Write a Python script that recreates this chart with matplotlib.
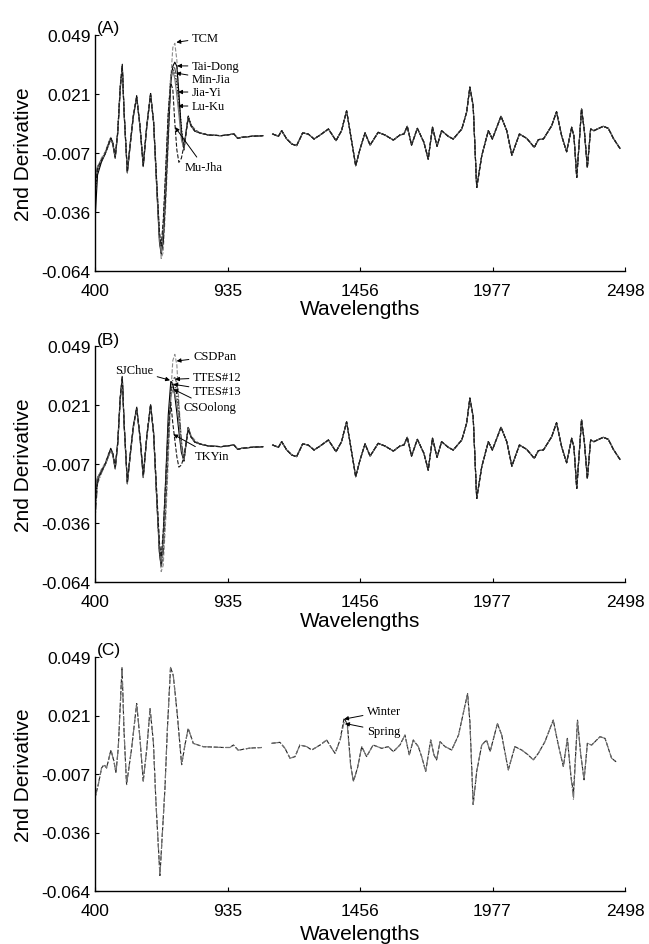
import numpy as np
import matplotlib
matplotlib.use("Agg")
import matplotlib.pyplot as plt

# ---------------- data ----------------
# visible-region grid (nm) shared by the panel A / B series
wl_head = [400, 410, 425, 440, 455, 462, 470, 480, 490, 500, 508, 515, 528, 540, 552,
           565, 578, 591, 605, 620, 632, 645, 655, 662, 670, 680, 690, 700, 708, 716,
           724, 732, 742, 752, 760, 769, 780, 795]

# panel A series (400-795 nm)
tcm = [-0.030, -0.016, -0.010, -0.007, -0.002, 0.000, -0.002, -0.009, 0.003, 0.025, 0.034, 0.013, -0.016, -0.002, 0.011,
       0.019, 0.006, -0.013, 0.006, 0.021, 0.008, -0.022, -0.046, -0.058, -0.055, -0.032, -0.004, 0.028, 0.043, 0.045,
       0.037, 0.020, 0.003, -0.006, 0.001, 0.010, 0.006, 0.004]
tai_dong = [-0.040, -0.018, -0.012, -0.008, -0.003, -0.001, -0.003, -0.010, 0.002, 0.023, 0.035, 0.012, -0.017, -0.003, 0.010,
            0.020, 0.005, -0.014, 0.005, 0.021, 0.007, -0.026, -0.050, -0.056, -0.050, -0.027, 0.001, 0.026, 0.034, 0.036,
            0.034, 0.021, 0.003, -0.006, 0.002, 0.010, 0.006, 0.003]
min_jia = [-0.022, -0.014, -0.011, -0.008, -0.003, -0.0005, -0.0025, -0.0095, 0.0025, 0.024, 0.034, 0.012, -0.0165, -0.0025, 0.0105,
           0.019, 0.0055, -0.0135, 0.0055, 0.0205, 0.007, -0.025, -0.048, -0.055, -0.046, -0.022, 0.006, 0.028, 0.034, 0.033,
           0.028, 0.015, 0.000, -0.006, 0.002, 0.010, 0.0055, 0.003]
jia_yi = [-0.028, -0.016, -0.011, -0.0075, -0.0025, 0.000, -0.002, -0.009, 0.003, 0.025, 0.034, 0.013, -0.016, -0.002, 0.011,
          0.0195, 0.006, -0.013, 0.006, 0.021, 0.0075, -0.024, -0.047, -0.054, -0.043, -0.018, 0.010, 0.030, 0.033, 0.030,
          0.025, 0.019, 0.005, -0.005, 0.002, 0.0105, 0.0055, 0.0035]
lu_ku = [-0.020, -0.014, -0.0105, -0.008, -0.0035, -0.001, -0.003, -0.010, 0.002, 0.0235, 0.0335, 0.012, -0.017, -0.003, 0.010,
         0.019, 0.005, -0.014, 0.005, 0.0205, 0.007, -0.025, -0.048, -0.055, -0.044, -0.017, 0.011, 0.029, 0.032, 0.028,
         0.020, 0.011, -0.001, -0.0055, 0.0025, 0.0095, 0.0055, 0.003]
mu_jha = [-0.025, -0.015, -0.011, -0.008, -0.003, -0.0005, -0.0025, -0.0095, 0.0025, 0.024, 0.034, 0.0125, -0.0165, -0.0025, 0.0105,
          0.019, 0.0055, -0.0135, 0.0055, 0.0205, 0.007, -0.023, -0.045, -0.052, -0.040, -0.015, 0.012, 0.026, 0.023, 0.007,
          -0.006, -0.012, -0.010, -0.004, 0.002, 0.009, 0.0055, 0.003]

# panel B series (400-795 nm)
csdpan = [-0.028, -0.016, -0.010, -0.007, -0.002, 0.000, -0.002, -0.009, 0.003, 0.025, 0.034, 0.013, -0.016, -0.002, 0.011,
          0.019, 0.006, -0.013, 0.006, 0.021, 0.008, -0.022, -0.046, -0.059, -0.056, -0.034, -0.006, 0.026, 0.042, 0.045,
          0.040, 0.022, 0.004, -0.006, 0.001, 0.010, 0.006, 0.004]
sjchue = [-0.022, -0.014, -0.011, -0.008, -0.003, -0.0005, -0.0025, -0.0095, 0.0025, 0.024, 0.034, 0.012, -0.0165, -0.0025, 0.0105,
          0.019, 0.0055, -0.0135, 0.0055, 0.0205, 0.007, -0.026, -0.050, -0.056, -0.042, -0.014, 0.016, 0.032, 0.031, 0.025,
          0.017, 0.008, -0.002, -0.006, 0.002, 0.010, 0.0055, 0.003]
ttes12 = [-0.035, -0.017, -0.012, -0.008, -0.003, -0.001, -0.003, -0.010, 0.002, 0.023, 0.035, 0.012, -0.017, -0.003, 0.010,
          0.020, 0.005, -0.014, 0.005, 0.021, 0.007, -0.026, -0.050, -0.057, -0.051, -0.028, 0.000, 0.025, 0.033, 0.034,
          0.031, 0.020, 0.003, -0.006, 0.002, 0.010, 0.006, 0.003]
ttes13 = [-0.025, -0.015, -0.011, -0.008, -0.003, -0.0005, -0.0025, -0.0095, 0.0025, 0.024, 0.034, 0.0125, -0.0165, -0.0025, 0.0105,
          0.019, 0.0055, -0.0135, 0.0055, 0.0205, 0.007, -0.025, -0.048, -0.055, -0.046, -0.022, 0.006, 0.027, 0.031, 0.030,
          0.025, 0.015, 0.001, -0.006, 0.002, 0.010, 0.0055, 0.003]
csoolong = [-0.020, -0.014, -0.0105, -0.008, -0.0035, -0.001, -0.003, -0.010, 0.002, 0.0235, 0.0335, 0.012, -0.017, -0.003, 0.010,
            0.019, 0.005, -0.014, 0.005, 0.0205, 0.007, -0.024, -0.047, -0.054, -0.044, -0.019, 0.008, 0.025, 0.028, 0.026,
            0.022, 0.013, 0.000, -0.0055, 0.0025, 0.0095, 0.0055, 0.003]
tkyin = [-0.030, -0.016, -0.011, -0.0075, -0.0025, 0.000, -0.002, -0.009, 0.003, 0.025, 0.034, 0.013, -0.016, -0.002, 0.011,
         0.0195, 0.006, -0.013, 0.006, 0.021, 0.0075, -0.023, -0.045, -0.052, -0.040, -0.015, 0.010, 0.022, 0.012, 0.004,
         -0.004, -0.009, -0.008, -0.004, 0.002, 0.009, 0.0055, 0.003]

# common part (800-1065 nm and 1100-2478 nm) for panels A and B
wl_flat = [815, 850, 900, 950, 965, 980, 1020, 1065]
flat_ab = [0.0021, 0.0011, 0.0008, 0.0016, -0.0005, 0.0, 0.0005, 0.0008]
wl_tail = [1103, 1126, 1139, 1159, 1179, 1198, 1222, 1244, 1267, 1291, 1324, 1354, 1376, 1386, 1396,
           1432, 1449, 1469, 1489, 1521, 1548, 1581, 1607, 1623, 1636, 1653, 1676, 1702, 1719, 1736,
           1754, 1772, 1798, 1818, 1852, 1871, 1884, 1897, 1911, 1931, 1957, 1973, 2007, 2030, 2050,
           2080, 2109, 2139, 2155, 2175, 2208, 2227, 2247, 2267, 2287, 2296, 2307, 2326, 2337, 2349,
           2362, 2375, 2412, 2432, 2452, 2478]
tail_ab = [0.0016, 0.0005, 0.0032, -0.0008, -0.0032, -0.0040, 0.0021, 0.0016, -0.0008, 0.0011, 0.0040, -0.0016, 0.0032, 0.0080, 0.0127,
           -0.0136, -0.0056, 0.0021, -0.0037, 0.0024, 0.0011, -0.0013, 0.0011, 0.0016, 0.0053, -0.0037, 0.0043, -0.0024, -0.0104, 0.0048,
           -0.0043, 0.0032, 0.0005, -0.0008, 0.0040, 0.0120, 0.0240, 0.0151, -0.0240, -0.0088, 0.0032, -0.0008, 0.0101, 0.0032, -0.0085,
           0.0016, -0.0005, -0.0048, -0.0011, -0.0008, 0.0056, 0.0123, 0.0008, -0.0069, 0.0048, 0.0005, -0.0192, 0.0136, 0.0032, -0.0144,
           0.0040, 0.0032, 0.0053, 0.0043, -0.0005, -0.0053]

# panel C (Winter / Spring)
wl_c_head = [400, 413, 426, 436, 446, 463, 475, 483, 492, 507, 515, 525, 545, 565, 578, 591, 605, 618, 631, 641,
             657, 677, 686, 699, 710, 726, 743, 756, 769, 789, 828, 908, 934, 948, 967, 1013, 1060]
c_head = [-0.0190, -0.0126, -0.0046, -0.0030, -0.0046, 0.0041, -0.0014, -0.0070, 0.0049, 0.0440, 0.0129, -0.0126, 0.0049, 0.0265, 0.0097,
          -0.0110, 0.0049, 0.0240, 0.0081, -0.0206, -0.0565, -0.0142, 0.0129, 0.0440, 0.0400, 0.0209, -0.0030, 0.0065, 0.0145, 0.0073,
          0.0057, 0.0053, 0.0053, 0.0065, 0.0040, 0.0050, 0.0053]
wl_c_tail = [1099, 1132, 1152, 1172, 1192, 1211, 1238, 1258, 1291, 1317, 1337, 1350, 1370, 1386, 1399, 1412, 1423, 1439, 1456, 1475,
             1501, 1535, 1561, 1581, 1607, 1627, 1644, 1660, 1680, 1693, 1709, 1729, 1742, 1752, 1766, 1786, 1812, 1839, 1859, 1875,
             1884, 1897, 1911, 1931, 1950, 1964, 1993, 2010, 2036, 2062, 2089, 2115, 2135, 2155, 2181, 2214, 2234, 2254, 2270, 2284,
             2294, 2310, 2323, 2336, 2349, 2366, 2399, 2419, 2445, 2465]
winter_tail = [0.0073, 0.0078, 0.0049, 0.0001, 0.0009, 0.0065, 0.0057, 0.0041, 0.0065, 0.0089, 0.0049, 0.0025, 0.0089, 0.0195, 0.0165, -0.0031, -0.0110, -0.0046, 0.0057, 0.0009,
               0.0065, 0.0049, 0.0057, 0.0033, 0.0065, 0.0113, 0.0017, 0.0089, 0.0057, 0.0009, -0.0062, 0.0089, 0.0017, -0.0007, 0.0081, 0.0057, 0.0041, 0.0113, 0.0225, 0.0313,
               0.0177, -0.0222, -0.0062, 0.0065, 0.0089, 0.0033, 0.0169, 0.0113, -0.0055, 0.0057, 0.0041, 0.0017, -0.0007, 0.0025, 0.0081, 0.0185, 0.0065, -0.0038, 0.0097, -0.0086,
               -0.0166, 0.0185, 0.0017, -0.0103, 0.0073, 0.0065, 0.0105, 0.0097, 0.0001, -0.0018]
spring_tail = [0.0073, 0.0078, 0.0049, 0.0001, 0.0009, 0.0065, 0.0057, 0.0041, 0.0065, 0.0089, 0.0049, 0.0025, 0.0085, 0.0175, 0.0155, -0.0035, -0.0112, -0.0046, 0.0057, 0.0009,
               0.0065, 0.0049, 0.0057, 0.0033, 0.0065, 0.0113, 0.0017, 0.0089, 0.0057, 0.0009, -0.0062, 0.0089, 0.0017, -0.0007, 0.0081, 0.0057, 0.0041, 0.0113, 0.0225, 0.0313,
               0.0177, -0.0222, -0.0062, 0.0065, 0.0089, 0.0033, 0.0169, 0.0113, -0.0055, 0.0057, 0.0041, 0.0017, -0.0007, 0.0025, 0.0081, 0.0185, 0.0065, -0.0038, 0.0097, -0.0086,
               -0.0200, 0.0185, 0.0017, -0.0103, 0.0073, 0.0065, 0.0105, 0.0097, 0.0001, -0.0018]

x_ticks = [400, 924.5, 1449, 1973.5, 2498]
x_tick_labels = ["400", "935", "1456", "1977", "2498"]
y_ticks = [-0.064, -0.03575, -0.0075, 0.02075, 0.049]
y_tick_labels = ["-0.064", "-0.036", "-0.007", "0.021", "0.049"]

# ---------------- figure ----------------
W, H = 649, 945
fig = plt.figure(figsize=(W / 100, H / 100), dpi=100)
SANS = "Liberation Sans"
SERIF = "Liberation Serif"


def full_series(head_wl, head_v, flat_wl, flat_v, tail_wl, tail_v):
    x = np.concatenate([head_wl, flat_wl, [np.nan], tail_wl]).astype(float)
    y = np.concatenate([head_v, flat_v, [np.nan], tail_v]).astype(float)
    return x, y


def style_axes(ax, label, label_y_px, xlabel_off):
    ax.set_xlim(400, 2498)
    ax.set_ylim(-0.064, 0.049)
    for s in ("top", "right"):
        ax.spines[s].set_visible(False)
    for s in ("left", "bottom"):
        ax.spines[s].set_linewidth(1.0)
    ax.set_xticks(x_ticks, x_tick_labels)
    ax.set_yticks(y_ticks, y_tick_labels)
    ax.tick_params(direction="in", length=3, width=0.8, labelsize=12.5, pad=3)
    ax.tick_params(axis="x", pad=8.5)
    for t in ax.get_xticklabels() + ax.get_yticklabels():
        t.set_fontfamily(SANS)
    ax.set_xlabel("Wavelengths", fontsize=15, fontfamily=SANS)
    ax.set_ylabel("2nd Derivative", fontsize=15, fontfamily=SANS)
    ax.xaxis.set_label_coords(0.5, xlabel_off)
    ax.yaxis.set_label_coords(-0.117, 0.5)
    fig.text(97 / W, 1 - label_y_px / H, label, fontsize=12.5, fontfamily=SANS,
             ha="left", va="center")


def annot(ax, text, xy, xytext, ha="left"):
    ax.annotate(text, xy=xy, xytext=xytext, fontsize=9, fontfamily=SERIF,
                ha=ha, va="center",
                arrowprops=dict(arrowstyle="-|>", color="black", lw=0.7,
                                mutation_scale=6, shrinkA=1, shrinkB=0))


styles = [("--", "0.55"), ("-", "0.0"), ("-.", "0.3"), (":", "0.0"), ("-", "0.45"), ("--", "0.1")]

# Panel A
axA = fig.add_axes([95 / W, 1 - 272 / H, 530 / W, 236 / H])
for vals, (ls, c) in zip([tcm, tai_dong, min_jia, jia_yi, lu_ku, mu_jha], styles):
    x, y = full_series(wl_head, vals, wl_flat, flat_ab, wl_tail, tail_ab)
    axA.plot(x, y, ls=ls, color=c, lw=0.8)
style_axes(axA, "(A)", 28, -0.119)
annot(axA, "TCM", (722, 0.0455), (784, 0.0476))
annot(axA, "Tai-Dong", (725, 0.0342), (784, 0.0342))
annot(axA, "Min-Jia", (721, 0.0308), (784, 0.0279))
annot(axA, "Jia-Yi", (729, 0.0217), (784, 0.0217))
annot(axA, "Lu-Ku", (729, 0.0150), (784, 0.0150))
annot(axA, "Mu-Jha", (717, 0.0049), (756, -0.0142))

# Panel B
axB = fig.add_axes([95 / W, 1 - 583 / H, 530 / W, 236 / H])
for vals, (ls, c) in zip([csdpan, sjchue, ttes12, ttes13, csoolong, tkyin], styles):
    x, y = full_series(wl_head, vals, wl_flat, flat_ab, wl_tail, tail_ab)
    axB.plot(x, y, ls=ls, color=c, lw=0.8)
style_axes(axB, "(B)", 341, -0.123)
annot(axB, "CSDPan", (723, 0.0418), (788, 0.0441))
annot(axB, "SJChue", (697, 0.0326), (630, 0.0374), ha="right")
annot(axB, "TTES#12", (717, 0.0331), (788, 0.0340))
annot(axB, "TTES#13", (709, 0.0307), (788, 0.0273))
annot(axB, "CSOolong", (710, 0.0283), (752, 0.0196))
annot(axB, "TKYin", (710, 0.0067), (796, -0.0037))

# Panel C
axC = fig.add_axes([95 / W, 1 - 892 / H, 530 / W, 234 / H])
xw, yw = full_series(wl_c_head, c_head, [], [], wl_c_tail, winter_tail)
xs, ys = full_series(wl_c_head, c_head, [], [], wl_c_tail, spring_tail)
axC.plot(xw, yw, ls="--", color="0.1", lw=0.8)
axC.plot(xs, ys, ls="-.", color="0.45", lw=0.8)
style_axes(axC, "(C)", 651, -0.141)
annot(axC, "Winter", (1386, 0.0190), (1477, 0.0227))
annot(axC, "Spring", (1390, 0.0169), (1477, 0.0131))

fig.savefig("out.png", dpi=100)
